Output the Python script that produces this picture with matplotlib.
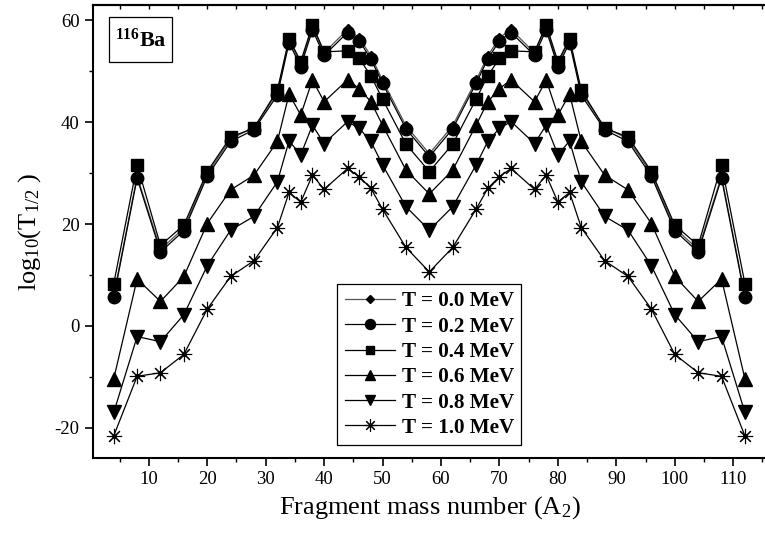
import matplotlib
matplotlib.use("Agg")
import matplotlib.pyplot as plt
from matplotlib.patches import Rectangle
from matplotlib.ticker import MultipleLocator

plt.rcParams["font.family"] = "Liberation Serif"
plt.rcParams["mathtext.fontset"] = "custom"
plt.rcParams["mathtext.rm"] = "Liberation Serif"
plt.rcParams["mathtext.it"] = "Liberation Serif:italic"
plt.rcParams["mathtext.bf"] = "Liberation Serif:bold"
plt.rcParams["axes.unicode_minus"] = False

# fragment mass number A2
a2 = [4, 8, 12, 16, 20, 24, 28, 32, 34, 36, 38, 40, 44, 46, 48, 50, 54, 58,
      62, 66, 68, 70, 72, 76, 78, 80, 82, 84, 88, 92, 96, 100, 104, 108, 112]

# log10(T1/2) for each temperature
t00 = [6.0, 29.4, 15.0, 19.2, 29.9, 36.7, 39.0, 45.8, 56.2, 51.4, 58.7, 53.6, 58.2, 56.6, 53.0, 48.2, 39.3, 33.8,
       39.3, 48.2, 53.0, 56.6, 58.2, 53.6, 58.7, 51.4, 56.2, 45.8, 39.0, 36.7, 29.9, 19.2, 15.0, 29.4, 6.0]
t02 = [5.6, 29.0, 14.5, 18.7, 29.4, 36.2, 38.5, 45.3, 55.6, 50.9, 58.1, 53.1, 57.6, 56.0, 52.4, 47.6, 38.7, 33.2,
       38.7, 47.6, 52.4, 56.0, 57.6, 53.1, 58.1, 50.9, 55.6, 45.3, 38.5, 36.2, 29.4, 18.7, 14.5, 29.0, 5.6]
t04 = [8.3, 31.6, 15.8, 19.8, 30.3, 37.1, 38.8, 46.3, 56.4, 51.9, 59.1, 53.8, 54.0, 52.5, 49.1, 44.5, 35.7, 30.3,
       35.7, 44.5, 49.1, 52.5, 54.0, 53.8, 59.1, 51.9, 56.4, 46.3, 38.8, 37.1, 30.3, 19.8, 15.8, 31.6, 8.3]
t06 = [-10.4, 9.2, 4.8, 9.7, 20.1, 26.7, 29.6, 36.2, 45.5, 41.4, 48.3, 44.0, 48.3, 46.6, 44.0, 39.4, 30.6, 25.9,
       30.6, 39.4, 44.0, 46.6, 48.3, 44.0, 48.3, 41.4, 45.5, 36.2, 29.6, 26.7, 20.1, 9.7, 4.8, 9.2, -10.4]
t08 = [-17.0, -2.1, -3.1, 2.2, 11.8, 18.8, 21.5, 28.3, 36.3, 33.6, 39.4, 35.8, 40.1, 38.8, 36.2, 31.6, 23.4, 18.8,
       23.4, 31.6, 36.2, 38.8, 40.1, 35.8, 39.4, 33.6, 36.3, 28.3, 21.5, 18.8, 11.8, 2.2, -3.1, -2.1, -17.0]
t10 = [-21.6, -9.9, -9.2, -5.6, 3.3, 9.7, 12.8, 19.3, 26.2, 24.3, 29.6, 26.8, 30.9, 29.3, 27.0, 22.9, 15.4, 10.6,
       15.4, 22.9, 27.0, 29.3, 30.9, 26.8, 29.6, 24.3, 26.2, 19.3, 12.8, 9.7, 3.3, -5.6, -9.2, -9.9, -21.6]

labels = ["T = 0.0 MeV", "T = 0.2 MeV", "T = 0.4 MeV",
          "T = 0.6 MeV", "T = 0.8 MeV", "T = 1.0 MeV"]

fig = plt.figure(figsize=(7.65, 5.37), dpi=100)
ax = fig.add_axes([92.7 / 765, 1 - 458.3 / 537, 1 - 92.7 / 765 + 0.002, (458.3 - 5) / 537])

lw = 0.9
ax.plot(a2, t00, color="#555555", lw=lw, marker="D", ms=5.5, mfc="k", mec="k", label=labels[0])
ax.plot(a2, t02, color="k", lw=lw, marker="o", ms=9, mfc="k", mec="k", label=labels[1])
ax.plot(a2, t04, color="k", lw=lw, marker="s", ms=8, mfc="k", mec="k", label=labels[2])
ax.plot(a2, t06, color="k", lw=lw, marker="^", ms=9.5, mfc="k", mec="k", label=labels[3])
ax.plot(a2, t08, color="k", lw=lw, marker="v", ms=9.5, mfc="k", mec="k", label=labels[4])
ax.plot(a2, t10, color="k", lw=lw, marker=(8, 2, 0), ms=11, mew=0.8, mec="k", label=labels[5])
ax.plot(a2, t10, ls="none", marker="o", ms=2.5, color="k")

ax.set_xlim(0.4, 115.7)
ax.set_ylim(-26, 63)
ax.xaxis.set_major_locator(MultipleLocator(10))
ax.xaxis.set_minor_locator(MultipleLocator(5))
ax.yaxis.set_major_locator(MultipleLocator(20))
ax.yaxis.set_minor_locator(MultipleLocator(10))
ax.set_xticks(range(10, 111, 10))

ax.tick_params(which="major", direction="out", length=6, width=1.2, labelsize=13.5)
ax.tick_params(which="minor", direction="out", length=3, width=1.0)
for s in ["left", "bottom", "top"]:
    ax.spines[s].set_linewidth(1.5)
ax.spines["right"].set_visible(False)

top = ax.secondary_xaxis("top")
top.xaxis.set_major_locator(MultipleLocator(10))
top.xaxis.set_minor_locator(MultipleLocator(5))
top.tick_params(which="both", direction="in", length=3, width=1.0, labeltop=False)
top.spines["top"].set_linewidth(1.5)

ax.set_xlabel("Fragment mass number (A$_2$)", fontsize=19, labelpad=4)
ax.set_ylabel("log$_{10}$(T$_{1/2}$ )", fontsize=19, labelpad=8)

ax.add_patch(Rectangle((0.0242, 0.8743), 0.0937, 0.0992, transform=ax.transAxes,
                       fill=False, ec="k", lw=0.9))
ax.text(0.0711, 0.922, r"$^{\mathbf{116}}$Ba", transform=ax.transAxes, fontsize=16,
        fontweight="bold", ha="center", va="center")

leg = ax.legend(loc="upper left", bbox_to_anchor=(337.3 / 765, 1 - 284 / 537),
                bbox_transform=fig.transFigure, borderaxespad=0,
                prop={"weight": "bold", "size": 15.2}, fancybox=False,
                edgecolor="k", framealpha=1, handlelength=2.4, handletextpad=0.3,
                labelspacing=0.25, borderpad=0.35, markerscale=0.8)
leg.get_frame().set_linewidth(0.9)

fig.savefig("out.png", dpi=100)
